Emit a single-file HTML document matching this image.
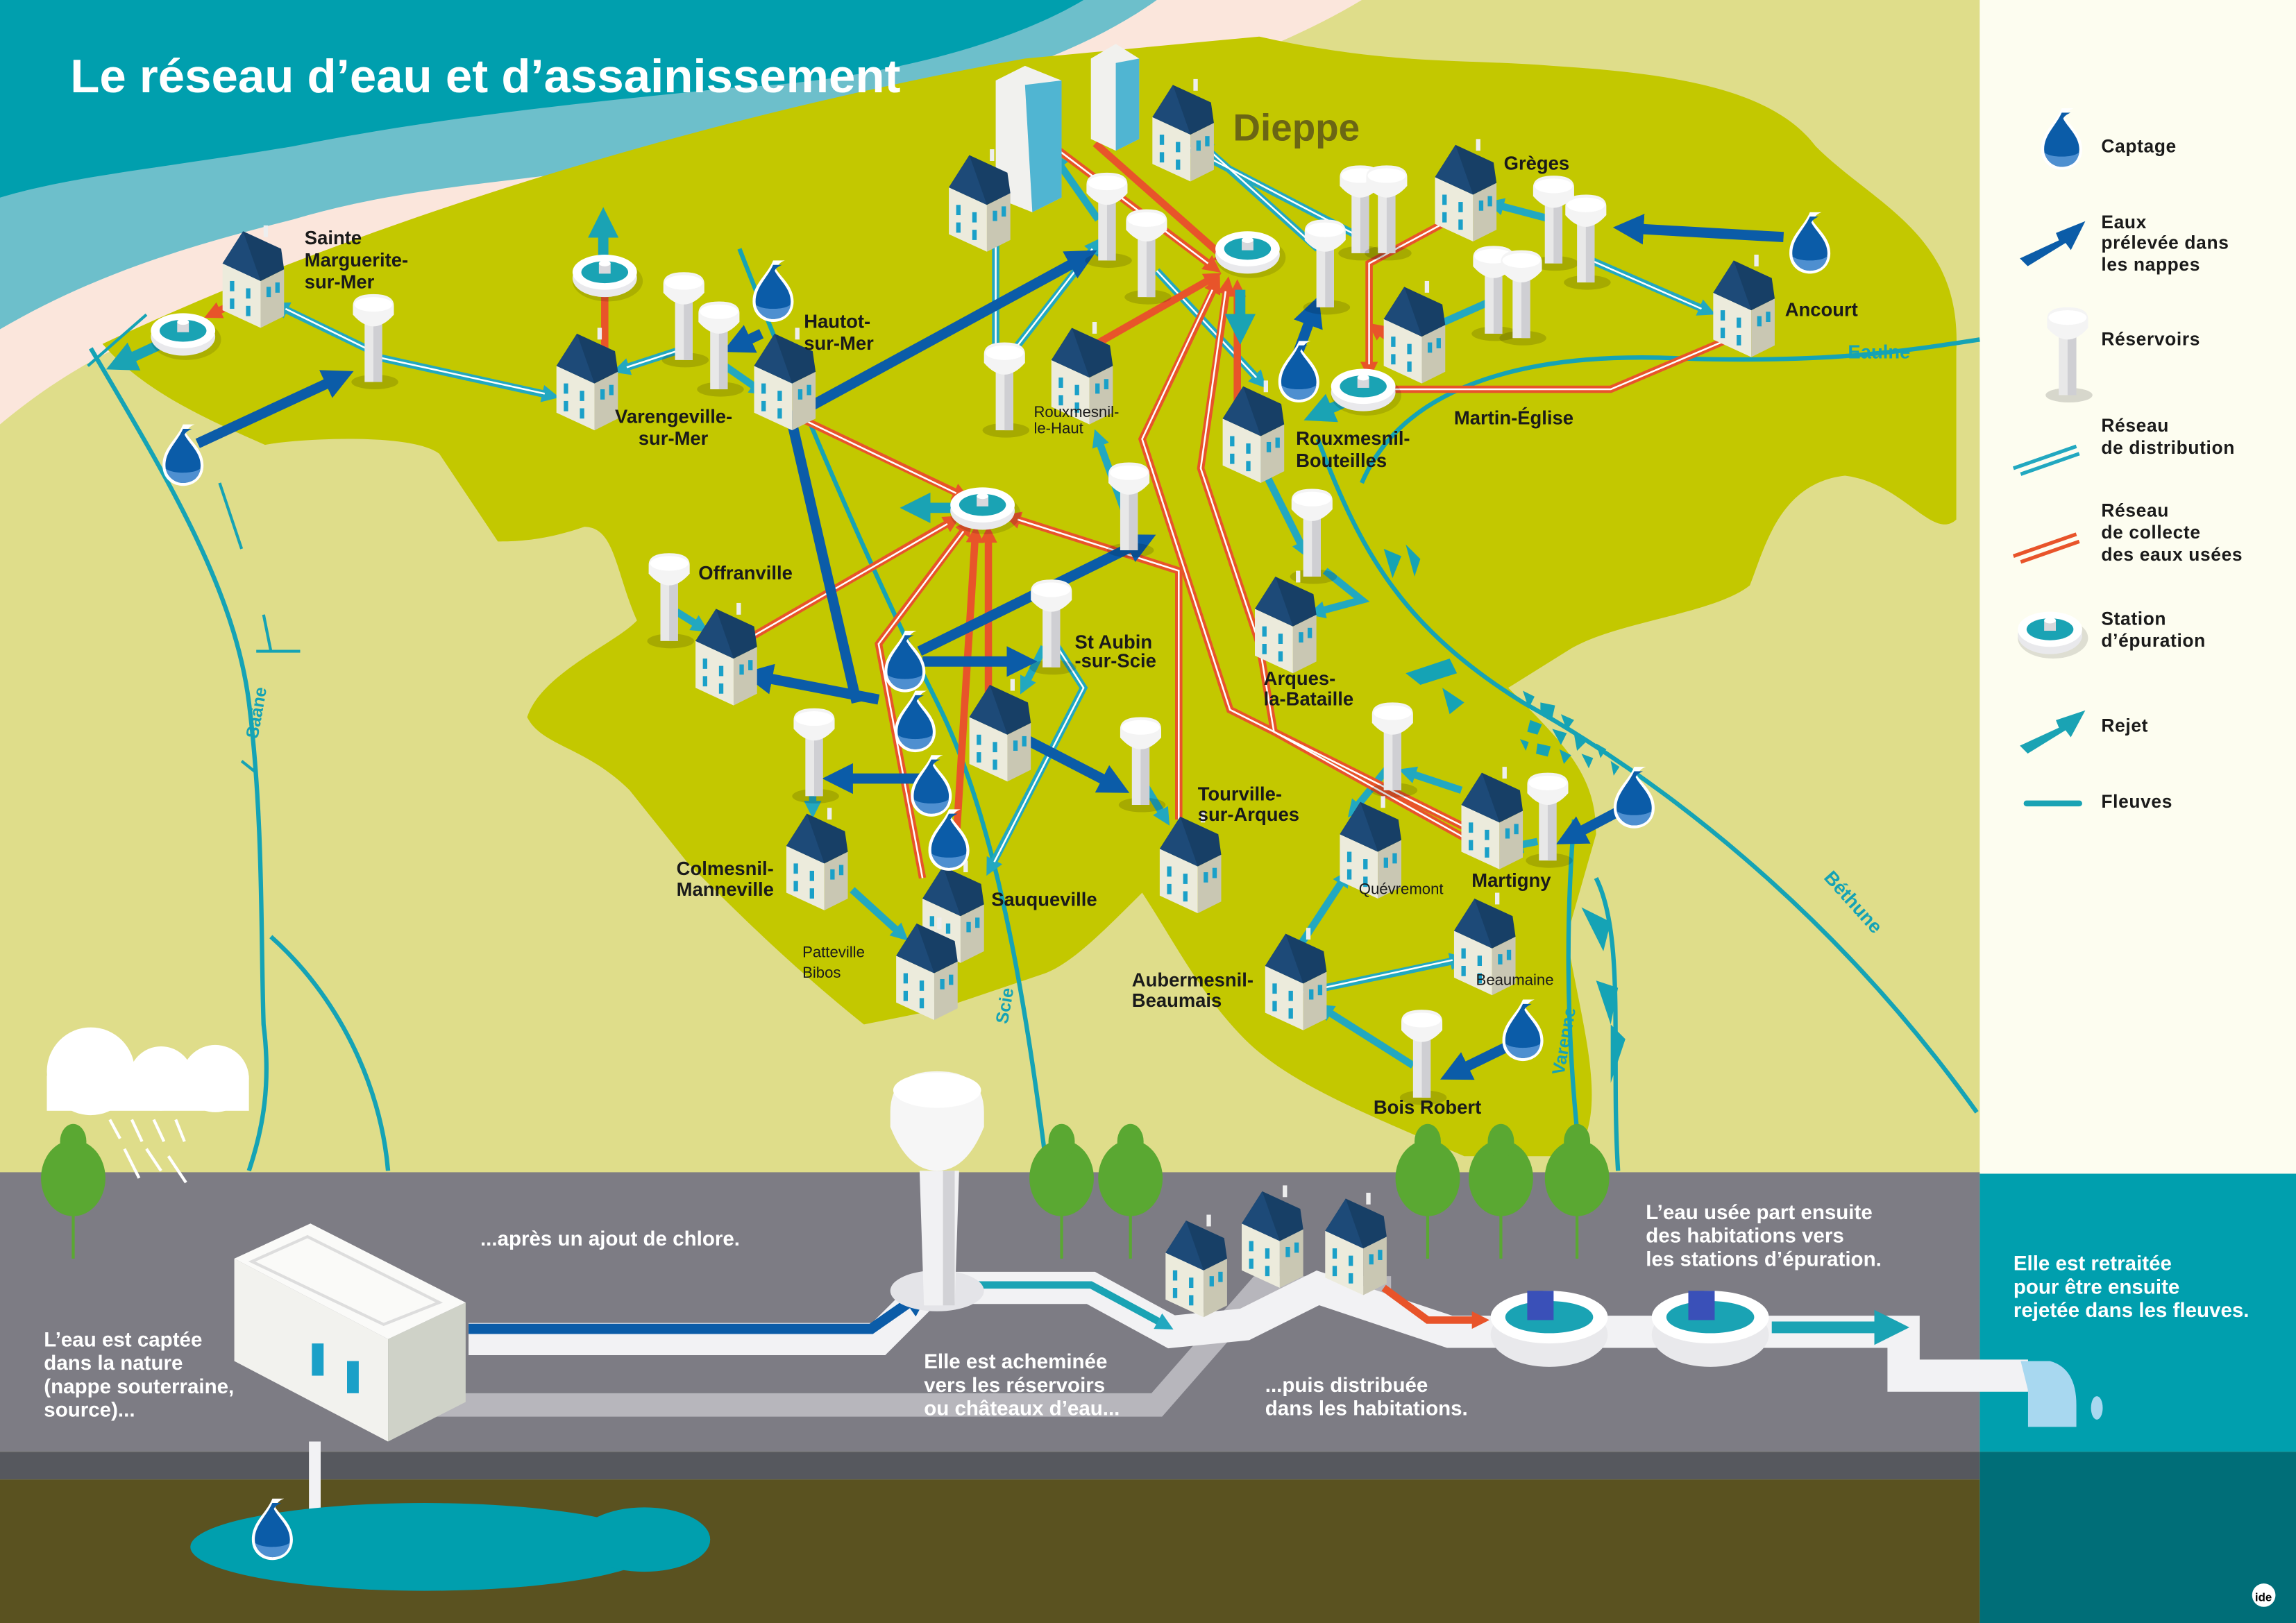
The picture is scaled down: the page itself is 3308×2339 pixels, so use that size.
<!DOCTYPE html>
<html><head><meta charset="utf-8"><style>
html,body{margin:0;padding:0;}
svg{display:block;}
text{font-family:"Liberation Sans",sans-serif;font-weight:bold;}
</style></head><body>
<svg width="3308" height="2339" viewBox="0 0 1568 1109" preserveAspectRatio="none" xmlns="http://www.w3.org/2000/svg">
<defs>
<g id="house">
<polygon points="0,18 26,30 26,62 0,50" fill="#ecebdc"/>
<polygon points="26,30 42,22 42,54 26,62" fill="#c9c7b3"/>
<polygon points="0,18 14,-4 40,8 42,22 26,30" fill="#173f66"/>
<polygon points="0,18 14,-4 26,30" fill="#1d4a78"/>
<rect x="5" y="30" width="3" height="7" fill="#1aa0c8"/><rect x="16" y="35" width="3" height="7" fill="#1aa0c8"/>
<rect x="5" y="42" width="3" height="7" fill="#1aa0c8"/><rect x="16" y="47" width="3" height="7" fill="#1aa0c8"/>
<rect x="30" y="34" width="3" height="7" fill="#1aa0c8"/><rect x="36" y="31" width="3" height="7" fill="#1aa0c8"/>
<rect x="28" y="-8" width="3" height="8" fill="#eee"/>
</g>
<g id="tower">
<ellipse cx="16" cy="58" rx="16" ry="5" fill="#000" opacity="0.15"/>
<rect x="9" y="12" width="12" height="46" fill="#e8e8e8"/>
<rect x="15" y="12" width="6" height="46" fill="#cfcfd3"/>
<path d="M1,6 Q1,-2 15,-2 Q29,-2 29,6 L29,12 Q22,20 15,20 Q8,20 1,12 Z" fill="#f4f4f4"/>
<ellipse cx="15" cy="5" rx="13" ry="5" fill="#fff"/>
</g>
<g id="station">
<ellipse cx="2" cy="4" rx="24" ry="14" fill="#000" opacity="0.12"/>
<ellipse cx="0" cy="2" rx="22" ry="13" fill="#e9e9ec"/>
<ellipse cx="0" cy="-2" rx="22" ry="12" fill="#fff"/>
<ellipse cx="0" cy="-2" rx="16" ry="7.5" fill="#1aa3b4"/>
<rect x="-4" y="-8" width="8" height="7" fill="#d8d8dc"/><ellipse cx="0" cy="-8" rx="4" ry="2" fill="#fff"/>
</g>
<g id="drop">
<path d="M0,-22 C-4,-12 -14,-6 -14,6 C-14,15 -7,20 0,20 C7,20 14,15 14,6 C14,-4 6,-10 2,-16 C3,-19 5,-21 8,-22 Z" fill="#fff"/>
<path d="M0,-19 C-4,-10 -12,-4 -12,6 C-12,13 -6,18 0,18 C6,18 12,13 12,6 C12,-3 4,-9 1,-15 C2,-17 4,-18 6,-19 Z" fill="#0b5ca8"/>
<path d="M-12,8 C-10,15 -5,18 0,18 C6,18 11,15 12,8 C8,12 -8,12 -12,8 Z" fill="#4e8fd0"/>
</g>
<marker id="ab" viewBox="0 0 10 10" refX="5" refY="5" markerWidth="3" markerHeight="3" orient="auto"><path d="M0,0 L10,5 L0,10 Z" fill="#0b5ca8"/></marker>
<marker id="at" viewBox="0 0 10 10" refX="5" refY="5" markerWidth="3" markerHeight="3" orient="auto"><path d="M0,0 L10,5 L0,10 Z" fill="#1aa3b4"/></marker>
<marker id="ad" viewBox="0 0 10 10" refX="4" refY="5" markerWidth="2.4" markerHeight="2.4" orient="auto"><path d="M0,0 L10,5 L0,10 Z" fill="#22a8c0"/></marker>
<marker id="ao" viewBox="0 0 10 10" refX="4" refY="5" markerWidth="2.4" markerHeight="2.4" orient="auto"><path d="M0,0 L10,5 L0,10 Z" fill="#e8542a"/></marker>
</defs>

<rect x="0" y="0" width="1568" height="1109" fill="#dfdd8a"/>
<path d="M0,0 L930,0 C830,60 700,80 600,120 C450,190 350,170 200,200 C120,215 60,240 0,290 Z" fill="#fbe6dc"/>
<path d="M0,0 L790,0 C720,50 620,70 520,95 C400,125 300,120 200,150 C120,170 60,190 0,225 Z" fill="#6dbfcb"/>
<path d="M0,0 L740,0 C690,30 600,55 500,60 C400,70 300,80 200,100 C110,115 50,120 0,135 Z" fill="#009fae"/>
<path d="M70,235 C250,150 480,80 700,40 L860,25 C950,45 1000,40 1060,45 C1140,50 1210,60 1240,100 C1280,140 1340,160 1336,240 L1336,355 C1320,370 1300,330 1260,325 C1215,330 1205,375 1195,400 C1170,420 1100,425 1070,445 L1030,470 C1070,510 1090,530 1090,570 L1070,640 C1080,700 1100,760 1075,790 L1000,790 C930,760 880,740 850,710 C820,680 800,640 780,610 C750,640 730,660 711,666 L640,690 L590,700 C540,660 500,620 470,590 L430,540 C400,510 370,510 360,490 C370,460 420,440 435,424 C420,390 420,360 399,360 C370,370 350,370 340,370 L300,310 C280,295 200,300 181,304 C150,290 100,270 70,235 Z" fill="#c3c800"/>

<rect x="1352" y="0" width="216" height="802" fill="#fdfdf0"/>
<rect x="1352" y="802" width="216" height="190" fill="#009fae"/>
<rect x="1352" y="992" width="216" height="117" fill="#006e78"/>
<rect x="0" y="801" width="1352" height="191" fill="#7d7c84"/>
<rect x="0" y="992" width="1352" height="19" fill="#56585e"/>
<rect x="0" y="1011" width="1352" height="98" fill="#5a5220"/>

<g fill="none" stroke="#15a3b5" stroke-width="3">
<path d="M62,238 C110,320 160,400 170,480 C180,560 178,640 180,700 C185,740 180,770 170,800"/>
<path d="M185,640 C230,680 260,740 265,800"/>
<path d="M505,170 C540,260 590,380 640,480 C680,560 700,680 715,800"/>
<path d="M900,300 C930,380 960,430 1040,480 C1130,530 1250,620 1350,760"/>
<path d="M930,330 C960,260 1050,240 1150,245 C1250,248 1300,240 1352,232"/>
<path d="M1075,560 C1070,620 1068,700 1080,800"/>
<path d="M1090,600 C1110,640 1100,720 1105,800"/>
</g>
<g stroke="#15a3b5" stroke-width="2">
<line x1="60" y1="250" x2="100" y2="215"/><line x1="150" y1="330" x2="165" y2="375"/><line x1="180" y1="420" x2="185" y2="445"/><line x1="175" y1="445" x2="205" y2="445"/><line x1="165" y1="520" x2="175" y2="528"/>
</g>
<g fill="#15a3b5">
<path d="M945,375 l12,5 -6,15z M960,372 l10,10 -4,12z M960,460 l30,-10 5,10 -25,8z M985,470 l15,10 -10,8z"/>
<path d="M1040,472 l8,4 -4,8z M1052,480 l10,2 -2,9 -8,-3z M1066,488 l9,4 -5,7z M1045,492 l8,3 -3,7 -7,-2z M1060,498 l10,3 -4,8z M1075,502 l8,5 -6,6z M1050,508 l9,2 -2,7 -8,-2z M1065,512 l8,4 -5,6z M1080,515 l8,3 -3,7z M1090,508 l7,4 -4,6z M1038,505 l6,2 -2,6z M1100,520 l6,4 -4,6z"/>
<path d="M1080,620 l20,10 -5,20z M1090,670 l15,5 -5,25z M1100,700 l10,10 -10,30z"/>
</g>
<text x="176" y="505" font-size="12" fill="#15a3b5" transform="rotate(-80 176 505)">Saâne</text>
<text x="688" y="700" font-size="12" fill="#15a3b5" transform="rotate(-80 688 700)">Scie</text>
<text x="1262" y="245" font-size="13" fill="#15a3b5">Eaulne</text>
<text x="1245" y="600" font-size="13" fill="#15a3b5" transform="rotate(48 1245 600)">Béthune</text>
<text x="1068" y="735" font-size="12" fill="#15a3b5" transform="rotate(-80 1068 735)">Varenne</text>

<g fill="none" stroke="#22a8c0" stroke-width="5" marker-end="url(#ad)">
<path d="M253,243 L375,270"/><path d="M250,238 L192,210"/><path d="M468,238 L425,252"/><path d="M495,250 L518,266"/>
<path d="M680,250 L680,160"/><path d="M750,150 L722,110"/><path d="M900,170 L822,100"/><path d="M925,160 L800,95"/>
<path d="M1060,150 L1022,140"/><path d="M1080,175 L1165,212"/><path d="M1020,205 L975,225"/><path d="M688,245 L748,168"/>
<path d="M770,355 L750,300"/><path d="M790,185 L860,260"/><path d="M860,315 L890,375"/><path d="M905,390 L930,410 L900,418"/>
<path d="M713,442 L700,468"/><path d="M722,442 L740,470 L677,592"/><path d="M555,530 L555,552"/><path d="M778,530 L795,558"/>
<path d="M582,608 L615,638"/><path d="M880,658 L918,600"/><path d="M890,678 L995,656"/><path d="M965,728 L905,690"/>
<path d="M950,522 L925,553"/><path d="M998,540 L962,528"/><path d="M1050,575 L1035,578"/><path d="M462,418 L478,428"/>
</g>
<g fill="none" stroke="#fff" stroke-width="1.2">
<path d="M253,243 L372,269"/><path d="M250,238 L195,211"/><path d="M468,238 L428,251"/><path d="M680,250 L680,163"/><path d="M900,170 L825,102"/><path d="M925,160 L803,96"/><path d="M1080,175 L1162,211"/><path d="M790,185 L858,258"/><path d="M722,442 L740,470 L679,589"/><path d="M890,678 L992,656"/><path d="M688,245 L746,170"/>
</g>

<g fill="none" stroke="#e8542a" stroke-width="5" marker-end="url(#ao)">
<path d="M163,206 L146,214"/><path d="M413,242 L413,198"/><path d="M545,285 L656,338"/><path d="M740,240 L828,190"/>
<path d="M845,290 L845,198"/><path d="M1180,232 L1100,266 L942,266"/><path d="M1000,145 L935,180 L935,252"/>
<path d="M722,102 L828,182"/><path d="M748,98 L836,176"/><path d="M805,560 L805,390 L692,354"/><path d="M630,600 L600,440 L660,360"/>
<path d="M652,590 L666,366"/><path d="M675,480 L675,366"/><path d="M505,440 L650,356"/><path d="M1000,565 L840,485 L780,300 L830,195"/>
<path d="M1010,578 L870,500 L860,440 L820,320 L838,196"/><path d="M960,240 L940,225"/>
</g>
<g fill="none" stroke="#fff" stroke-width="1.2">
<path d="M545,285 L653,337"/><path d="M1180,232 L1100,266 L945,266"/><path d="M1000,145 L935,180 L935,249"/><path d="M722,102 L825,180"/><path d="M805,560 L805,390 L695,355"/><path d="M630,600 L600,440 L658,363"/><path d="M505,440 L647,358"/><path d="M1000,565 L840,485 L780,300 L828,198"/><path d="M1010,578 L870,500 L860,440 L820,320 L837,199"/>
</g>

<g fill="none" stroke="#0b5ca8" stroke-width="7" stroke-linecap="butt">
<path d="M135,303 L232,258" marker-end="url(#ab)"/><path d="M540,285 L740,176" marker-end="url(#ab)"/><path d="M540,285 L585,480"/>
<path d="M628,445 L780,370" marker-end="url(#ab)"/><path d="M630,452 L698,452" marker-end="url(#ab)"/><path d="M600,478 L517,462" marker-end="url(#ab)"/>
<path d="M628,532 L572,532" marker-end="url(#ab)"/><path d="M700,505 L762,537" marker-end="url(#ab)"/><path d="M885,245 L897,212" marker-end="url(#ab)"/>
<path d="M1218,162 L1112,156" marker-end="url(#ab)"/><path d="M1110,552 L1072,572" marker-end="url(#ab)"/><path d="M1040,710 L993,733" marker-end="url(#ab)"/><path d="M520,228 L503,236" marker-end="url(#ab)"/>
</g>
<g fill="none" stroke="#1aa3b4" stroke-width="7">
<path d="M108,236 L82,248" marker-end="url(#at)"/><path d="M412,180 L412,152" marker-end="url(#at)"/><path d="M652,347 L625,347" marker-end="url(#at)"/>
<path d="M847,198 L847,225" marker-end="url(#at)"/><path d="M925,272 L900,283" marker-end="url(#at)"/>
</g>

<polygon points="680,55 700,45 725,55 725,135 705,145 680,135" fill="#f1f1ee"/>
<polygon points="700,58 725,55 725,135 705,145" fill="#1aa0c8" opacity="0.75"/>
<polygon points="745,40 762,30 778,40 778,95 762,103 745,95" fill="#f1f1ee"/>
<polygon points="762,43 778,40 778,95 762,103" fill="#1aa0c8" opacity="0.75"/>

<use href="#station" x="125" y="228"/><use href="#station" x="413" y="188"/><use href="#station" x="671" y="347"/><use href="#station" x="852" y="172"/><use href="#station" x="931" y="266"/>

<g>
<use href="#tower" x="240" y="203"/><use href="#tower" x="452" y="188"/><use href="#tower" x="476" y="208"/><use href="#tower" x="741" y="120"/><use href="#tower" x="768" y="145"/>
<use href="#tower" x="671" y="236"/><use href="#tower" x="756" y="318"/><use href="#tower" x="703" y="398"/><use href="#tower" x="541" y="486"/><use href="#tower" x="764" y="492"/>
<use href="#tower" x="442" y="380"/><use href="#tower" x="881" y="336"/><use href="#tower" x="914" y="115"/><use href="#tower" x="932" y="115"/><use href="#tower" x="1046" y="122"/>
<use href="#tower" x="1068" y="135"/><use href="#tower" x="1005" y="170"/><use href="#tower" x="1024" y="173"/><use href="#tower" x="890" y="152"/><use href="#tower" x="936" y="482"/>
<use href="#tower" x="1042" y="530"/><use href="#tower" x="956" y="692"/>
</g>

<g>
<use href="#house" x="152" y="162"/><use href="#house" x="380" y="232"/><use href="#house" x="515" y="232"/><use href="#house" x="648" y="110"/><use href="#house" x="787" y="62"/>
<use href="#house" x="718" y="228"/><use href="#house" x="980" y="103"/><use href="#house" x="945" y="200"/><use href="#house" x="1170" y="182"/><use href="#house" x="835" y="268"/>
<use href="#house" x="857" y="398"/><use href="#house" x="475" y="420"/><use href="#house" x="662" y="472"/><use href="#house" x="537" y="560"/><use href="#house" x="630" y="596"/>
<use href="#house" x="612" y="635"/><use href="#house" x="792" y="562"/><use href="#house" x="998" y="532"/><use href="#house" x="915" y="552"/><use href="#house" x="993" y="618"/>
<use href="#house" x="864" y="642"/>
</g>

<use href="#drop" x="125" y="312"/><use href="#drop" x="528" y="200"/><use href="#drop" x="887" y="255"/><use href="#drop" x="1236" y="167"/>
<use href="#drop" x="618" y="453"/><use href="#drop" x="625" y="494"/><use href="#drop" x="636" y="538"/><use href="#drop" x="1116" y="546"/><use href="#drop" x="1040" y="705"/><use href="#drop" x="648" y="575"/>

<text x="48" y="63" font-size="32" fill="#fff" textLength="567" lengthAdjust="spacingAndGlyphs">Le réseau d’eau et d’assainissement</text>
<text x="842" y="96" font-size="26" fill="#6b6614">Dieppe</text>

<g font-size="13" fill="#1a1a1a">
<text x="208" y="167">Sainte</text><text x="208" y="182">Marguerite-</text><text x="208" y="197">sur-Mer</text>
<text x="420" y="289">Varengeville-</text><text x="436" y="304">sur-Mer</text>
<text x="549" y="224">Hautot-</text><text x="549" y="239">sur-Mer</text>
<text x="1027" y="116">Grèges</text><text x="1219" y="216">Ancourt</text>
<text x="993" y="290">Martin-Église</text>
<text x="885" y="304">Rouxmesnil-</text><text x="885" y="319">Bouteilles</text>
<text x="477" y="396">Offranville</text>
<text x="734" y="443">St Aubin</text><text x="734" y="456">-sur-Scie</text>
<text x="863" y="468">Arques-</text><text x="863" y="482">la-Bataille</text>
<text x="818" y="547">Tourville-</text><text x="818" y="561">sur-Arques</text>
<text x="1005" y="606">Martigny</text>
<text x="462" y="598">Colmesnil-</text><text x="462" y="612">Manneville</text>
<text x="677" y="619">Sauqueville</text>
<text x="773" y="674">Aubermesnil-</text><text x="773" y="688">Beaumais</text>
<text x="938" y="761">Bois Robert</text>
</g>
<g font-size="10.5" fill="#1a1a1a">
<text x="706" y="285" style="font-weight:normal">Rouxmesnil-</text><text x="706" y="296" style="font-weight:normal">le-Haut</text>
<text x="928" y="611" style="font-weight:normal">Quévremont</text><text x="1008" y="673" style="font-weight:normal">Beaumaine</text>
<text x="548" y="654" style="font-weight:normal">Patteville</text><text x="548" y="668" style="font-weight:normal">Bibos</text>
</g>

<use href="#drop" x="1408" y="96"/>
<path d="M1382,177 L1408,165 L1406,160 L1421,154 L1414,168 L1411,164 L1385,180 Z" fill="#0b5ca8" stroke="#0b5ca8" stroke-width="3"/>
<use href="#tower" x="1397" y="212"/>
<g stroke="#22a8c0" stroke-width="2.5"><line x1="1375" y1="320" x2="1418" y2="305"/><line x1="1380" y1="324" x2="1420" y2="310"/></g>
<g stroke="#e8542a" stroke-width="2.5"><line x1="1375" y1="380" x2="1418" y2="365"/><line x1="1380" y1="384" x2="1420" y2="370"/></g>
<use href="#station" x="1400" y="432"/>
<path d="M1382,510 L1408,498 L1406,493 L1421,488 L1414,501 L1411,497 L1385,513 Z" fill="#1aa3b4" stroke="#1aa3b4" stroke-width="3"/>
<line x1="1384" y1="549" x2="1420" y2="549" stroke="#1aa3b4" stroke-width="4" stroke-linecap="round"/>
<g font-size="12.5" fill="#1a1a1a" letter-spacing="0.3">
<text x="1435" y="104">Captage</text>
<text x="1435" y="156">Eaux</text><text x="1435" y="170">prélevée dans</text><text x="1435" y="185">les nappes</text>
<text x="1435" y="236">Réservoirs</text>
<text x="1435" y="295">Réseau</text><text x="1435" y="310">de distribution</text>
<text x="1435" y="353">Réseau</text><text x="1435" y="368">de collecte</text><text x="1435" y="383">des eaux usées</text>
<text x="1435" y="427">Station</text><text x="1435" y="442">d’épuration</text>
<text x="1435" y="500">Rejet</text><text x="1435" y="552">Fleuves</text>
</g>

<g fill="#fff"><circle cx="62" cy="732" r="30"/><circle cx="110" cy="737" r="22"/><circle cx="147" cy="737" r="23"/><rect x="32" y="735" width="138" height="24"/></g>
<g stroke="#fff" stroke-width="2"><line x1="75" y1="765" x2="82" y2="778"/><line x1="90" y1="765" x2="97" y2="780"/><line x1="105" y1="765" x2="112" y2="780"/><line x1="120" y1="765" x2="126" y2="780"/><line x1="85" y1="785" x2="95" y2="805"/><line x1="100" y1="785" x2="110" y2="800"/><line x1="115" y1="790" x2="127" y2="808"/></g>
<g fill="#5aa832">
<ellipse cx="50" cy="805" rx="22" ry="26"/><ellipse cx="50" cy="780" rx="9" ry="12"/>
<ellipse cx="725" cy="805" rx="22" ry="26"/><ellipse cx="725" cy="780" rx="9" ry="12"/>
<ellipse cx="772" cy="805" rx="22" ry="26"/><ellipse cx="772" cy="780" rx="9" ry="12"/>
<ellipse cx="975" cy="805" rx="22" ry="26"/><ellipse cx="975" cy="780" rx="9" ry="12"/>
<ellipse cx="1025" cy="805" rx="22" ry="26"/><ellipse cx="1025" cy="780" rx="9" ry="12"/>
<ellipse cx="1077" cy="805" rx="22" ry="26"/><ellipse cx="1077" cy="780" rx="9" ry="12"/>
</g>
<g stroke="#5aa832" stroke-width="2"><line x1="50" y1="830" x2="50" y2="860"/><line x1="725" y1="830" x2="725" y2="860"/><line x1="772" y1="830" x2="772" y2="860"/><line x1="975" y1="830" x2="975" y2="860"/><line x1="1025" y1="830" x2="1025" y2="860"/><line x1="1077" y1="830" x2="1077" y2="860"/></g>

<path d="M290,960 L790,960 L860,880 L950,880" fill="none" stroke="#b7b6bc" stroke-width="16"/>
<path d="M320,915 L600,915 L635,880 L745,880 L800,910 L850,905 L900,880 L990,910 L1300,910 L1300,940 L1385,940" fill="none" stroke="#f2f2f4" stroke-width="22" stroke-linejoin="miter"/>
<path d="M320,908 L595,908 L628,885" fill="none" stroke="#0b5ca8" stroke-width="7" marker-end="url(#ab)"/>
<path d="M665,878 L745,878 L795,905" fill="none" stroke="#1aa3b4" stroke-width="5" marker-end="url(#ad)"/>
<path d="M945,880 L975,902 L1010,902" fill="none" stroke="#e8542a" stroke-width="5" marker-end="url(#ao)"/>
<path d="M1210,907 L1292,907" fill="none" stroke="#1aa3b4" stroke-width="8" marker-end="url(#at)"/>
<ellipse cx="640" cy="882" rx="32" ry="14" fill="#e4e4e8"/>
<path d="M628,800 L655,800 L652,892 L631,892 Z" fill="#f1f1f3"/><rect x="644" y="800" width="8" height="92" fill="#d2d2d6"/>
<path d="M608,760 Q608,732 640,732 Q672,732 672,760 L672,770 Q660,800 640,800 Q620,800 608,770 Z" fill="#f6f6f6"/>
<ellipse cx="640" cy="745" rx="30" ry="12" fill="#fff"/>
<use href="#house" x="796" y="838"/>
<use href="#house" x="848" y="818"/><use href="#house" x="905" y="823"/>
<g><ellipse cx="1058" cy="912" rx="40" ry="22" fill="#e9e9ec"/><ellipse cx="1058" cy="900" rx="40" ry="18" fill="#fff"/><ellipse cx="1058" cy="900" rx="30" ry="11" fill="#1aa3b4"/><rect x="1043" y="882" width="18" height="20" fill="#3a50b8"/>
<ellipse cx="1168" cy="912" rx="40" ry="22" fill="#e9e9ec"/><ellipse cx="1168" cy="900" rx="40" ry="18" fill="#fff"/><ellipse cx="1168" cy="900" rx="30" ry="11" fill="#1aa3b4"/><rect x="1153" y="882" width="18" height="20" fill="#3a50b8"/></g>
<path d="M1380,930 L1400,930 Q1418,935 1418,960 L1418,975 L1385,975 L1385,950 Z" fill="#a8d8f0"/>
<ellipse cx="1432" cy="962" rx="4" ry="8" fill="#a8d8f0"/>
<polygon points="160,860 265,915 265,985 160,930" fill="#f2f2ee"/>
<polygon points="265,915 318,890 318,958 265,985" fill="#cfd2c8"/>
<polygon points="160,860 212,836 318,890 265,915" fill="#fafaf8"/>
<polygon points="172,862 210,845 300,890 262,905" fill="none" stroke="#ddd" stroke-width="2"/>
<rect x="213" y="918" width="8" height="22" fill="#1aa0c8"/><rect x="237" y="930" width="8" height="22" fill="#1aa0c8"/>
<rect x="211" y="985" width="8" height="65" fill="#f2f2f4"/>
<ellipse cx="290" cy="1057" rx="160" ry="30" fill="#009fae"/><ellipse cx="440" cy="1052" rx="45" ry="22" fill="#009fae"/>
<use href="#drop" x="186" y="1046"/>

<g font-size="14" fill="#fff">
<text x="30" y="920">L’eau est captée</text><text x="30" y="936">dans la nature</text><text x="30" y="952">(nappe souterraine,</text><text x="30" y="968">source)...</text>
<text x="328" y="851">...après un ajout de chlore.</text>
<text x="631" y="935">Elle est acheminée</text><text x="631" y="951">vers les réservoirs</text><text x="631" y="967">ou châteaux d’eau...</text>
<text x="864" y="951">...puis distribuée</text><text x="864" y="967">dans les habitations.</text>
<text x="1124" y="833">L’eau usée part ensuite</text><text x="1124" y="849">des habitations vers</text><text x="1124" y="865">les stations d’épuration.</text>
<text x="1375" y="868">Elle est retraitée</text><text x="1375" y="884">pour être ensuite</text><text x="1375" y="900">rejetée dans les fleuves.</text>
</g>
<circle cx="1546" cy="1090" r="8" fill="#fff"/><text x="1540" y="1094" font-size="8" fill="#000">ide</text>
</svg>
</body></html>
